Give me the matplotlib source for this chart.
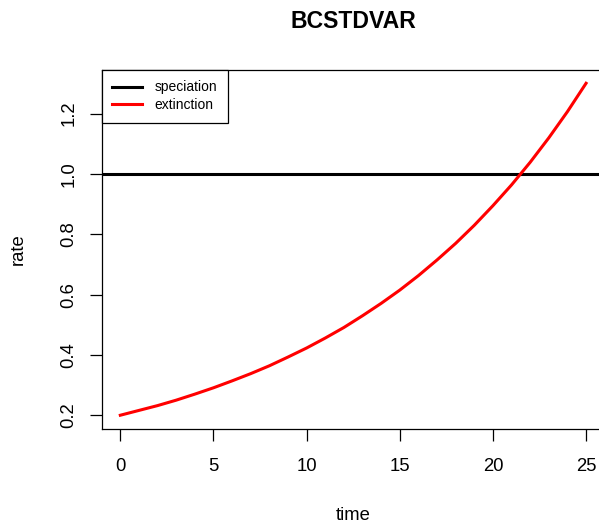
import matplotlib
matplotlib.use("Agg")
import matplotlib.pyplot as plt

plt.rcParams['font.family'] = ['Liberation Sans', 'DejaVu Sans']

# Data
time = [0, 1, 2, 3, 4, 5, 6, 7, 8, 9, 10, 11, 12, 13, 14, 15, 16, 17, 18, 19, 20, 21, 22, 23, 24, 25]
extinction = [0.200, 0.216, 0.232, 0.250, 0.270, 0.291, 0.314, 0.338, 0.364, 0.393,
              0.423, 0.456, 0.491, 0.530, 0.571, 0.615, 0.663, 0.715, 0.770, 0.830,
              0.895, 0.964, 1.039, 1.120, 1.207, 1.301]
speciation = 1.0
x_ticks = [0, 5, 10, 15, 20, 25]
y_ticks = [0.2, 0.4, 0.6, 0.8, 1.0, 1.2]
title = "BCSTDVAR"
legend_labels = ["speciation", "extinction"]

W, H = 599, 524
fig = plt.figure(figsize=(W / 100, H / 100), dpi=100)
left, right, top, bottom = 101.7, 604.7, 70.0, 428.5
ax = fig.add_axes([left / W, 1 - bottom / H, (right - left) / W, (bottom - top) / H])

ax.axhline(speciation, color='black', lw=2.2, label=legend_labels[0])
ax.plot(time, extinction, color='#FF0000', lw=2.2, label=legend_labels[1])

ax.set_xlim(-1, 26)
ax.set_ylim(0.156, 1.345)
ax.set_xticks(x_ticks)
ax.set_xticklabels([str(t) for t in x_ticks])
ax.set_yticks(y_ticks)
ax.set_yticklabels([f"{v:.1f}" for v in y_ticks], rotation=90, va='center')

for s in ax.spines.values():
    s.set_linewidth(0.9)
    s.set_color('black')
ax.tick_params(axis='both', direction='out', length=8.3, width=0.9, labelsize=13.3, colors='black')
ax.tick_params(axis='x', pad=13)
ax.tick_params(axis='y', pad=9)

ax.set_xlabel("time", fontsize=13.3, va='center')
ax.xaxis.set_label_coords(0.5, 1 - (515.0 - top) / (bottom - top))
ax.set_ylabel("rate", fontsize=13.3, va='center', rotation=90)
ax.yaxis.set_label_coords((18.3 - left) / (right - left), 0.5)

fig.text((left + right) / 2 / W, 1 - 21.7 / H, title, fontsize=16.6, fontweight='bold',
         ha='center', va='center')

leg = ax.legend(loc='upper left', bbox_to_anchor=(0, 1), borderaxespad=0, fontsize=10,
                fancybox=False, framealpha=1, edgecolor='black', borderpad=0.75,
                handlelength=2.16, handletextpad=0.9, labelspacing=0.28)
leg.get_frame().set_linewidth(0.9)

fig.savefig("out.png", dpi=100)
